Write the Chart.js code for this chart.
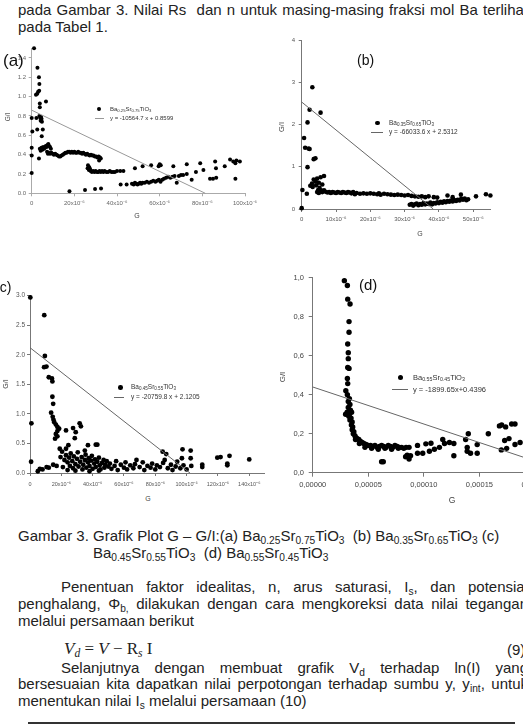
<!DOCTYPE html>
<html>
<head>
<meta charset="utf-8">
<script src="https://cdn.jsdelivr.net/npm/chart.js@4.4.1/dist/chart.umd.min.js"></script>
<style>
html, body { margin: 0; padding: 0; background: #fff; }
body { width: 523px; height: 724px; overflow: hidden; position: relative;
  font-family: "Liberation Sans", Arial, sans-serif; color: #222; }
.t { position: absolute; font-size: 15px; line-height: 17px; white-space: nowrap; }
.j { position: absolute; font-size: 15px; line-height: 17px; text-align: justify; text-align-last: justify; white-space: normal; }
sub { font-size: 0.68em; vertical-align: -0.28em; line-height: 0; }
canvas { position: absolute; }
.lg { position: absolute; line-height: 1; color: #333; white-space: nowrap; }
.lg sub { font-size: 0.7em; }
.dot { position: absolute; border-radius: 50%; background: #000; }
.ln { position: absolute; height: 1px; }
.ax { position: absolute; line-height: 1; color: #444; white-space: nowrap; transform: translate(-50%, -50%); }
.ax.r { transform: translate(-50%, -50%) rotate(-90deg); }
.pl { position: absolute; line-height: 1; color: #111; white-space: nowrap; }
</style>
</head>
<body>

<div class="j" style="left:18px;top:1px;width:510px">pada Gambar 3. Nilai Rs&nbsp; dan n untuk masing-masing fraksi mol Ba terlihat</div>
<div class="t" style="left:18px;top:18px">pada Tabel 1.</div>

<canvas id="ca" width="265" height="175" style="left:0px;top:38px"></canvas>
<canvas id="cb" width="250" height="199" style="left:262px;top:30px"></canvas>
<canvas id="cc" width="285" height="208" style="left:0px;top:285px"></canvas>
<canvas id="cd" width="285" height="228" style="left:270px;top:265px"></canvas>

<!-- panel labels -->
<div class="pl" style="left:3px;top:52px;font-size:17px">(a)</div>
<div class="pl" style="left:357px;top:53px;font-size:14px">(b)</div>
<div class="pl" style="left:-5px;top:280px;font-size:14px">(c)</div>
<div class="pl" style="left:359px;top:277px;font-size:15px">(d)</div>

<!-- axis titles -->
<div class="ax" style="left:137px;top:215px;font-size:7px">G</div>
<div class="ax r" style="left:8px;top:117px;font-size:6.5px">G/I</div>
<div class="ax" style="left:420px;top:233px;font-size:7px">G</div>
<div class="ax r" style="left:282px;top:127px;font-size:7.5px">G/I</div>
<div class="ax" style="left:148px;top:498px;font-size:7px">G</div>
<div class="ax r" style="left:5px;top:384px;font-size:7px">G/I</div>
<div class="ax" style="left:452px;top:500px;font-size:8.5px">G</div>
<div class="ax r" style="left:283px;top:377px;font-size:8px">G/I</div>

<!-- legends -->
<div class="dot" style="left:97px;top:107px;width:4px;height:4px"></div>
<div class="lg" style="left:110px;top:106px;font-size:6px">Ba<sub>0.25</sub>Sr<sub>0.75</sub>TiO<sub>3</sub></div>
<div class="ln" style="left:95px;top:118px;width:9px;background:#999"></div>
<div class="lg" style="left:110px;top:115px;font-size:6px">y = -10564.7 x + 0.8599</div>

<div class="dot" style="left:375px;top:120.5px;width:4.6px;height:4.6px"></div>
<div class="lg" style="left:389px;top:119.5px;font-size:6.5px">Ba<sub>0.35</sub>Sr<sub>0.65</sub>TiO<sub>3</sub></div>
<div class="ln" style="left:371px;top:132px;width:12px;background:#666"></div>
<div class="lg" style="left:389px;top:129px;font-size:6.5px">y = -66033.6 x + 2.5312</div>

<div class="dot" style="left:118.4px;top:385px;width:4.6px;height:4.6px"></div>
<div class="lg" style="left:131px;top:384px;font-size:6.5px">Ba<sub>0.45</sub>Sr<sub>0.55</sub>TiO<sub>3</sub></div>
<div class="ln" style="left:114px;top:397px;width:10px;background:#666"></div>
<div class="lg" style="left:131px;top:394px;font-size:6.5px">y = -20759.8 x + 2.1205</div>

<div class="dot" style="left:398px;top:375px;width:5.4px;height:5.4px"></div>
<div class="lg" style="left:413px;top:374px;font-size:7.5px">Ba<sub>0.55</sub>Sr<sub>0.45</sub>TiO<sub>3</sub></div>
<div class="ln" style="left:392px;top:389px;width:16px;background:#666"></div>
<div class="lg" style="left:413px;top:385.5px;font-size:7.5px">y = -1899.65x+0.4396</div>

<!-- caption and body text -->
<div class="t" style="left:18px;top:527px">Gambar 3. Grafik Plot G – G/I:(a) Ba<sub>0.25</sub>Sr<sub>0.75</sub>TiO<sub>3</sub>&nbsp; (b) Ba<sub>0.35</sub>Sr<sub>0.65</sub>TiO<sub>3</sub> (c)</div>
<div class="t" style="left:93px;top:544px">Ba<sub>0.45</sub>Sr<sub>0.55</sub>TiO<sub>3</sub>&nbsp; (d) Ba<sub>0.55</sub>Sr<sub>0.45</sub>TiO<sub>3</sub></div>

<div class="j" style="left:61px;top:578px;width:467px">Penentuan faktor idealitas, n, arus saturasi, I<sub>s</sub>, dan potensial</div>
<div class="j" style="left:18px;top:595px;width:510px">penghalang, Φ<sub>b,</sub> dilakukan dengan cara mengkoreksi data nilai tegangan</div>
<div class="t" style="left:18px;top:612px">melalui persamaan berikut</div>

<div class="t" style="left:64px;top:640px;font-family:'Liberation Serif','DejaVu Serif',serif;font-size:17px;line-height:18px"><i>V<sub>d</sub></i> = <i>V</i> − R<sub><i>s</i></sub> I</div>
<div class="t" style="left:507px;top:641px">(9)</div>

<div class="j" style="left:61px;top:659px;width:467px">Selanjutnya dengan membuat grafik V<sub>d</sub> terhadap ln(I) yang</div>
<div class="j" style="left:18px;top:675px;width:510px">bersesuaian kita dapatkan nilai perpotongan terhadap sumbu y, y<sub>int</sub>, untuk</div>
<div class="t" style="left:18px;top:692px">menentukan nilai I<sub>s</sub> melalui persamaan (10)</div>

<div style="position:absolute;left:28px;top:722px;width:487px;height:2px;background:#333"></div>

<script>

// (a) Ba0.25Sr0.75TiO3
const aG = [1.1,2.7,3.4,3.6,2.0,2.6,3.0,3.5,6.7,3.8,3.8,0.0,2.2,3.6,4.0,4.4,4.6,4.2,4.8,0.3,2.6,5.2,4.7,0.0,0.0,3.4,0.0,
  3.8,4.2,4.6,5.0,5.4,5.8,6.2,6.6,7.0,7.4,7.8,8.2,8.6,9.0,7.2,7.6,8.0,8.6,9.2,9.8,10.4,11.0,11.6,12.2,12.8,13.4,14.0,14.6,15.2,15.8,16.4,17.0,17.6,18.2,18.8,19.4,20.0,20.6,21.2,21.8,22.4,23.0,23.6,24.2,24.8,25.4,26.0,26.6,27.2,27.8,28.4,29.0,29.6,30.2,30.8,31.4,32.0,31.6,32.4,
  26.4,27.0,26.2,27.4,26.8,27.6,28.2,28.8,29.4,30.0,30.6,31.2,31.8,32.4,33.0,33.6,34.2,35.0,35.8,36.6,37.4,38.2,39.0,40.0,41.5,43.0,
  17.7,25.0,29.7,32.5,
  41.7,44.5,47.0,47.8,48.4,49.0,49.6,50.2,50.8,51.4,52.0,53.0,54.0,55.0,56.0,57.0,58.0,58.8,59.6,60.4,61.2,62.0,63.0,64.0,65.0,66.0,67.0,68.0,69.0,70.0,71.0,72.7,75.0,77.0,80.5,83.6,85.0,86.5,95.5,
  48.4,52.0,56.0,59.5,60.0,60.5,66.4,72.7,79.0,86.0,86.4,90.5,93.0,94.5,96.0,95.5,97.6];
const aGI = [1.50,1.30,1.20,1.13,1.02,1.03,1.05,1.06,0.95,0.93,0.89,0.78,0.78,0.80,0.78,0.79,0.77,0.75,0.74,0.64,0.66,0.66,0.59,0.47,0.39,0.36,0.21,
  0.46,0.44,0.47,0.45,0.48,0.46,0.47,0.49,0.48,0.50,0.51,0.49,0.48,0.46,0.43,0.41,0.42,0.41,0.42,0.41,0.40,0.41,0.40,0.39,0.38,0.38,0.39,0.40,0.41,0.42,0.42,0.43,0.43,0.42,0.43,0.42,0.43,0.42,0.42,0.43,0.42,0.42,0.41,0.42,0.41,0.40,0.41,0.40,0.39,0.40,0.39,0.39,0.38,0.38,0.37,0.38,0.37,0.34,0.36,
  0.29,0.27,0.26,0.25,0.24,0.23,0.22,0.23,0.22,0.23,0.22,0.22,0.23,0.22,0.23,0.22,0.23,0.22,0.22,0.23,0.22,0.22,0.22,0.23,0.23,0.23,
  0.02,0.035,0.045,0.05,
  0.09,0.09,0.10,0.09,0.11,0.10,0.09,0.10,0.11,0.10,0.11,0.11,0.12,0.11,0.12,0.13,0.12,0.13,0.14,0.12,0.14,0.15,0.16,0.17,0.16,0.17,0.18,0.11,0.18,0.19,0.19,0.20,0.14,0.22,0.24,0.15,0.15,0.16,0.15,
  0.26,0.28,0.29,0.28,0.30,0.29,0.28,0.30,0.31,0.33,0.26,0.28,0.35,0.33,0.34,0.31,0.33];
const aSlope = -10564.7, aIntercept = 0.8599;
const aXTicks = [0, 20, 40, 60, 80, 100];
const aYTicks = [0, 0.2, 0.4, 0.6, 0.8, 1.0, 1.2, 1.4];

// (b) Ba0.35Sr0.65TiO3
const bG = [0.0,0.2,1.5,1.7,0.7,1.0,2.0,2.3,1.7,2.3,3.1,5.5,3.5,4.0,
  2.5,3.0,3.2,3.5,4.0,4.2,4.5,5.0,5.2,5.5,6.0,6.5,4.8,5.6,
  4.5,5.0,5.5,6.0,6.5,7.0,7.5,8.0,8.5,9.0,9.5,10.0,10.5,11.0,11.5,12.0,12.5,13.0,13.5,14.0,14.5,15.0,15.5,16.0,17.0,18.0,19.0,20.0,21.0,22.0,22.5,23.0,24.0,25.0,26.0,27.0,28.0,29.0,30.0,31.0,32.0,33.0,34.0,35.0,36.0,37.0,
  31.5,32.0,32.5,33.0,33.5,34.0,34.5,35.0,35.5,36.0,36.5,37.0,37.5,38.0,38.5,39.0,39.5,40.0,40.5,41.0,41.5,42.0,42.5,43.0,43.5,44.0,44.5,45.0,45.5,46.0,46.5,47.0,47.5,48.0,48.5,
  38.5,39.5,42.5,44.0,46.4,50.8,53.7,55.0];
const bGI = [0.02,0.45,0.36,0.99,1.68,1.45,1.43,1.42,2.05,2.35,2.88,2.28,1.18,1.20,
  0.55,0.60,0.52,0.70,0.65,0.56,0.72,0.62,0.50,0.75,0.58,0.78,0.45,0.44,
  0.40,0.38,0.42,0.40,0.44,0.41,0.39,0.40,0.38,0.40,0.39,0.38,0.40,0.39,0.38,0.40,0.39,0.38,0.40,0.39,0.37,0.40,0.35,0.38,0.36,0.37,0.36,0.37,0.36,0.35,0.37,0.34,0.36,0.35,0.34,0.33,0.34,0.33,0.32,0.33,0.31,0.30,0.29,0.30,0.28,0.30,
  0.10,0.12,0.08,0.11,0.13,0.09,0.12,0.10,0.14,0.11,0.13,0.12,0.15,0.11,0.14,0.13,0.16,0.14,0.17,0.15,0.18,0.16,0.19,0.17,0.20,0.18,0.21,0.19,0.22,0.20,0.24,0.22,0.25,0.21,0.23,
  0.28,0.27,0.32,0.28,0.34,0.30,0.35,0.32];
const bSlope = -66033.6, bIntercept = 2.5312;
const bXTicks = [0, 10, 20, 30, 40, 50];
const bYTicks = [0, 1, 2, 3, 4];

// (c) Ba0.45Sr0.55TiO3
const cG = [0.2,9.1,9.5,9.0,10.5,12.0,14.0,14.3,14.3,14.8,13.5,14.5,15.0,15.5,16.5,17.5,18.6,17.5,16.5,17.5,16.0,0.9,31.7,32.5,27.5,23.0,29.2,28.6,0.7,24.5,
  19,23,20.5,19.5,37,42,43,35,6.3,10.6,14.8,5.0,8.0,12.0,17.0,21.0,
  22,23,24,25,25.5,26,27,27.5,28,29,30,30.5,31,32,33,33.5,34,35,35.5,36,37,37.5,38,39,39.5,40,41,41.5,42,43,44,44.5,45,46,47,47.5,48,49,50,51,52,24,29,38,44,
  54,55,56,58,60,61,62,64,66,67,68,70,72,73,75,77,78,80,81,83,85,84.7,87,86,88,90,91,93,94,96,97,97.4,98,100,102.6,102.6,103,
  110,110,119.6,121.7,126,126,127.4,140];
const cGI = [2.97,2.67,1.98,1.79,1.80,1.62,1.60,1.55,1.29,1.17,1.02,0.95,0.90,0.86,0.82,0.78,0.75,0.71,0.66,0.62,0.58,0.84,0.84,0.79,0.76,0.72,0.69,0.59,0.19,0.47,
  0.41,0.41,0.36,0.27,0.47,0.48,0.48,0.38,0.07,0.10,0.14,0.03,0.06,0.09,0.12,0.10,
  0.22,0.30,0.18,0.26,0.12,0.33,0.20,0.08,0.28,0.15,0.24,0.35,0.11,0.19,0.27,0.06,0.14,0.22,0.31,0.09,0.18,0.25,0.12,0.21,0.29,0.07,0.16,0.23,0.10,0.19,0.26,0.13,0.06,0.17,0.22,0.09,0.14,0.20,0.11,0.16,0.07,0.05,0.04,0.03,0.04,
  0.12,0.20,0.05,0.14,0.09,0.18,0.06,0.13,0.08,0.15,0.22,0.10,0.18,0.05,0.12,0.09,0.16,0.06,0.13,0.10,0.17,0.36,0.32,0.22,0.08,0.14,0.05,0.11,0.19,0.08,0.25,0.40,0.13,0.06,0.38,0.25,0.12,
  0.14,0.10,0.26,0.27,0.16,0.13,0.29,0.23];
const cSlope = -20759.8, cIntercept = 2.1205;
const cXTicks = [0, 20, 40, 60, 80, 100, 120, 140];
const cYTicks = [0, 0.5, 1.0, 1.5, 2.0, 2.5, 3.0];

// (d) Ba0.55Sr0.45TiO3
const dG = [28.5,31.2,31.5,33.6,32.7,32.7,31.5,32.0,32.0,31.5,32.7,31.2,31.5,29.8,31.2,33.0,32.0,33.5,32.0,34.0,29.6,31.0,33.0,35.0,32.5,34.5,33.5,35.5,34.8,36.0,35.5,37.0,36.5,38.0,39.0,40.0,41.5,43.0,44.5,46.0,48.0,50.0,52.0,54.0,56.0,58.0,60.0,62.0,64.0,66.0,68.0,70.0,72.0,74.0,76.0,78.0,80.0,82.0,84.0,86.7,38.5,42,47,53,59,65,71,77,
  62.0,63.5,83.6,86.7,88.0,85.0,
  94.3,101.8,106.4,94.3,99.0,105.0,109.5,114.0,117.0,118.6,123.0,127.0,127.0,137.6,140.0,139.0,139.0,142.0,148.0,148.0,158.0,168.0,170.0,173.6,172.7,169.7,174.5,176.6,179.0,182.0,182.0,186.6];
const dGI = [0.985,0.96,0.89,0.865,0.775,0.72,0.66,0.615,0.585,0.54,0.535,0.483,0.457,0.42,0.40,0.38,0.365,0.35,0.335,0.32,0.30,0.31,0.30,0.31,0.29,0.28,0.27,0.26,0.245,0.235,0.22,0.21,0.20,0.19,0.18,0.175,0.17,0.16,0.155,0.15,0.145,0.14,0.14,0.135,0.14,0.13,0.135,0.14,0.135,0.13,0.14,0.135,0.13,0.14,0.135,0.13,0.13,0.125,0.13,0.13,0.17,0.15,0.13,0.125,0.12,0.125,0.12,0.125,
  0.056,0.056,0.082,0.07,0.087,0.09,
  0.14,0.148,0.151,0.10,0.10,0.11,0.12,0.13,0.17,0.15,0.155,0.15,0.087,0.17,0.20,0.13,0.11,0.10,0.10,0.144,0.20,0.24,0.245,0.235,0.165,0.117,0.125,0.175,0.25,0.25,0.145,0.155];
const dSlope = -1899.65, dIntercept = 0.4396;
const dXTicks = [0, 50, 100, 150, 200];
const dYTicks = [0, 0.2, 0.4, 0.6, 0.8, 1.0];

Chart.defaults.font.family = '"Liberation Sans", Arial, sans-serif';

const micro = v => v === 0 ? '0' : v + 'x10⁻⁶';
const comma = d => v => v.toFixed(d).replace('.', ',');

function panel(id, xs, ys, slope, icpt, o) {
  const pts = xs.map((g, i) => ({x: g, y: ys[i]}));
  const k = slope * 1e-6;
  const xEnd = Math.min(o.xMax, -icpt / k);
  const fit = [{x: 0, y: icpt}, {x: xEnd, y: icpt + k * xEnd}];
  new Chart(document.getElementById(id), {
    type: 'scatter',
    data: {
      datasets: [
        {data: fit, showLine: true, borderColor: o.fitColor, borderWidth: 1, pointRadius: 0, clip: false},
        {data: pts, backgroundColor: '#000', borderWidth: 0, pointRadius: o.r, clip: false}
      ]
    },
    options: {
      responsive: false,
      animation: false,
      devicePixelRatio: 1,
      layout: {padding: {left: 0, top: o.padTop, right: o.padRight, bottom: 0}},
      plugins: {legend: {display: false}, tooltip: {enabled: false}},
      scales: {
        x: {
          type: 'linear', min: 0, max: o.xMax,
          afterBuildTicks: s => { s.ticks = o.xTicks.map(v => ({value: v})); },
          afterFit: s => { s.height = o.xH; },
          ticks: {callback: o.xFmt, font: {size: o.xFs}, color: o.tc, padding: o.xPad, maxRotation: 0, autoSkip: false},
          grid: {drawOnChartArea: false, drawTicks: true, tickLength: o.tl, color: o.ac},
          border: {color: o.ac, width: 1}
        },
        y: {
          type: 'linear', min: 0, max: o.yMax,
          afterBuildTicks: s => { s.ticks = o.yTicks.map(v => ({value: v})); },
          afterFit: s => { s.width = o.yW; },
          ticks: {callback: o.yFmt, font: {size: o.yFs}, color: o.tc, padding: o.yPad, autoSkip: false},
          grid: {drawOnChartArea: false, drawTicks: true, tickLength: o.tl, color: o.ac},
          border: {color: o.ac, width: 1}
        }
      }
    }
  });
}

panel('ca', aG, aGI, aSlope, aIntercept, {
  xMax: 100, yMax: 1.5, xTicks: aXTicks, yTicks: aYTicks,
  xFmt: micro, yFmt: v => v.toFixed(1),
  padTop: 10.3, padRight: 20, xH: 19.7, yW: 31.7,
  xFs: 6, yFs: 6, xPad: 3.4, yPad: 2.7, tl: 3,
  tc: '#666', ac: '#aaa', fitColor: '#999', r: 2
});

panel('cb', bG, bGI, bSlope, bIntercept, {
  xMax: 55, yMax: 4, xTicks: bXTicks, yTicks: bYTicks,
  xFmt: micro, yFmt: v => String(v),
  padTop: 10, padRight: 21.6, xH: 20, yW: 39.7,
  xFs: 6, yFs: 6, xPad: 3.4, yPad: 3.7, tl: 3,
  tc: '#555', ac: '#777', fitColor: '#666', r: 2.3
});

panel('cc', cG, cGI, cSlope, cIntercept, {
  xMax: 150, yMax: 3, xTicks: cXTicks, yTicks: cYTicks,
  xFmt: micro, yFmt: v => v.toFixed(1),
  padTop: 10.7, padRight: 20.1, xH: 20, yW: 30,
  xFs: 5.5, yFs: 6.5, xPad: 4.7, yPad: 2, tl: 3,
  tc: '#555', ac: '#777', fitColor: '#666', r: 2.4
});

panel('cd', dG, dGI, dSlope, dIntercept, {
  xMax: 200, yMax: 1.0, xTicks: dXTicks, yTicks: dYTicks,
  xFmt: v => (v * 1e-6).toFixed(5).replace('.', ','), yFmt: comma(1),
  padTop: 12.7, padRight: 20, xH: 20.3, yW: 42.7,
  xFs: 7.5, yFs: 7.5, xPad: 3.8, yPad: 4.7, tl: 4,
  tc: '#444', ac: '#777', fitColor: '#666', r: 2.7
});
</script>
</body>
</html>
